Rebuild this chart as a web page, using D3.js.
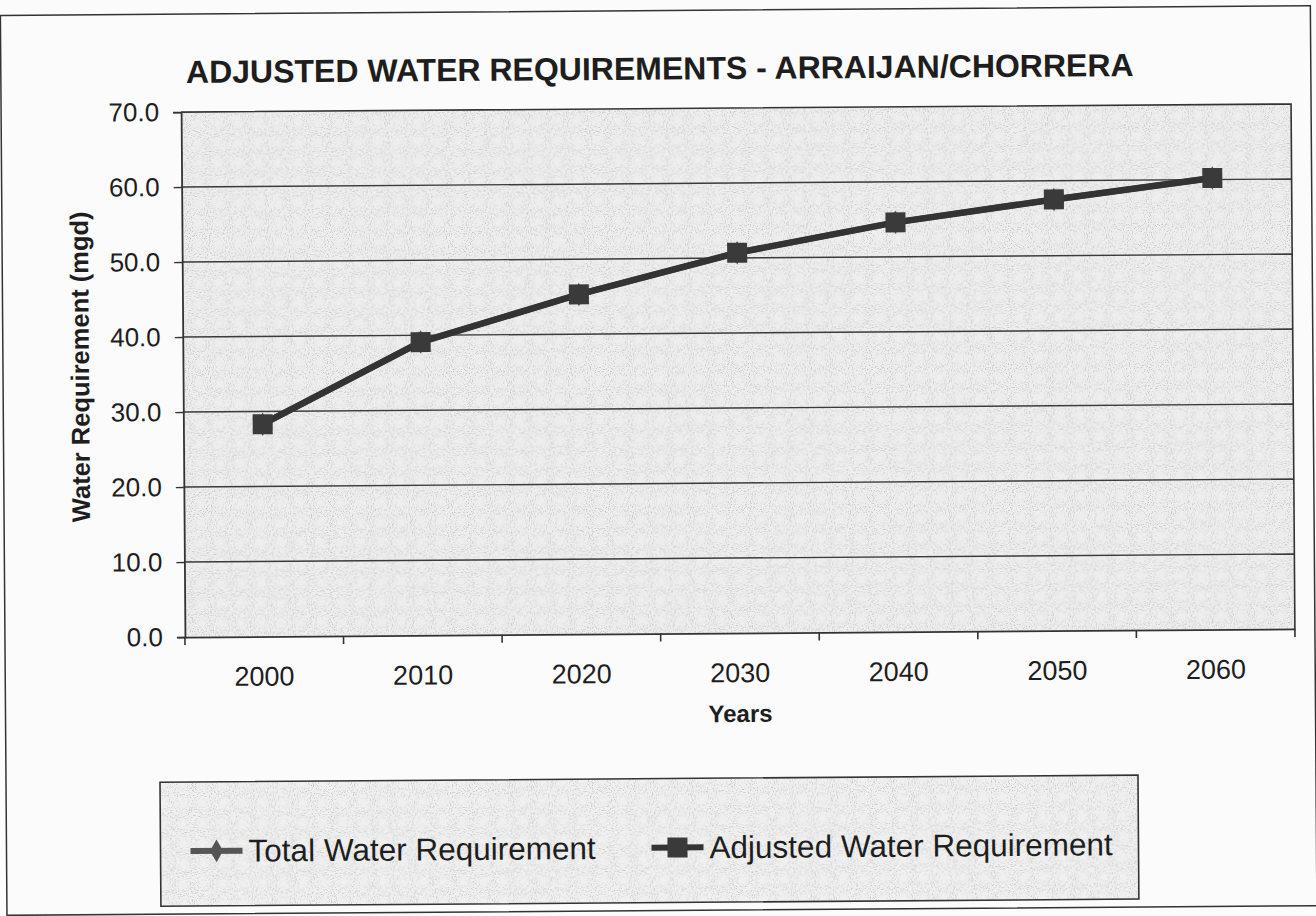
<!DOCTYPE html>
<html>
<head>
<meta charset="utf-8">
<script src="https://cdn.jsdelivr.net/npm/d3@7"></script>
<style>
  body { margin: 0; background: #fbfbfb; }
  text { font-family: "Liberation Sans", Arial, sans-serif; fill: #1e1e1e; }
</style>
</head>
<body>
<svg id="chart"></svg>
<script>
const width = 1316;
const height = 916;

// data
const years = ['2000', '2010', '2020', '2030', '2040', '2050', '2060'];
const adjustedWater = [28.3, 39.1, 45.3, 50.7, 54.6, 57.5, 60.2];
const totalWater = [28.3, 39.1, 45.3, 50.7, 54.6, 57.5, 60.2]; // hidden under the adjusted line
const yTicks = [0, 10, 20, 30, 40, 50, 60, 70];
const seriesNames = ['Total Water Requirement', 'Adjusted Water Requirement'];

const plot = {left: 183, top: 108, right: 1293, bottom: 633};

const svg = d3.select('#chart')
    .attr('width', width)
    .attr('height', height);

// speckle texture like the scan
const defs = svg.append('defs');
const speck = defs.append('filter').attr('id', 'speck')
    .attr('x', 0).attr('y', 0).attr('width', 1).attr('height', 1);
speck.append('feTurbulence').attr('type', 'fractalNoise')
    .attr('baseFrequency', 0.95).attr('numOctaves', 1).attr('seed', 4).attr('result', 'noise');
speck.append('feColorMatrix').attr('in', 'noise').attr('type', 'matrix')
    .attr('values', '0 0 0 0 0.55  0 0 0 0 0.55  0 0 0 0 0.55  0 0 0 -5 2.35')
    .attr('result', 'dots');
speck.append('feComposite').attr('in', 'dots').attr('in2', 'SourceGraphic').attr('operator', 'atop');

// the scan is slightly tilted
const page = svg.append('g').attr('transform', 'rotate(-0.42, 738, 370)');

page.append('rect')
    .attr('x', 3).attr('y', 10)
    .attr('width', 1310).attr('height', 900)
    .attr('fill', 'none').attr('stroke', '#333').attr('stroke-width', 1.5);

const x = d3.scaleBand().domain(years).range([plot.left, plot.right]);
const y = d3.scaleLinear().domain([0, 70]).range([plot.bottom, plot.top]);

page.append('rect')
    .attr('x', plot.left).attr('y', plot.top)
    .attr('width', plot.right - plot.left).attr('height', plot.bottom - plot.top)
    .attr('fill', '#eeeeee')
    .attr('filter', 'url(#speck)');

// gridlines
page.append('g').selectAll('line')
    .data(yTicks.filter(t => t > 0 && t < 70)).enter().append('line')
    .attr('x1', plot.left).attr('x2', plot.right)
    .attr('y1', d => y(d)).attr('y2', d => y(d))
    .attr('stroke', '#3a3a3a').attr('stroke-width', 1.4);

// plot border top/right
page.append('path')
    .attr('d', `M${plot.left},${plot.top}H${plot.right}V${plot.bottom}`)
    .attr('fill', 'none').attr('stroke', '#333').attr('stroke-width', 1.6);

const yAxis = page.append('g')
    .attr('transform', `translate(${plot.left},0)`)
    .call(d3.axisLeft(y).tickValues(yTicks).tickFormat(d3.format('.1f')).tickSize(8).tickPadding(14));

const xAxis = page.append('g')
    .attr('transform', `translate(0,${plot.bottom})`)
    .call(d3.axisBottom(x).tickSize(0).tickPadding(30));

// boundary ticks between categories
xAxis.selectAll('.bound')
    .data(years.map(d => x(d)).concat([plot.right])).enter().append('line')
    .attr('class', 'bound')
    .attr('x1', d => d).attr('x2', d => d)
    .attr('y1', 0).attr('y2', 8)
    .attr('stroke', '#333').attr('stroke-width', 1.6);

[yAxis, xAxis].forEach(a => {
    a.select('.domain').attr('stroke', '#333').attr('stroke-width', 1.8);
    a.selectAll('.tick line').attr('stroke', '#333').attr('stroke-width', 1.4);
    a.selectAll('.tick text').style('font-size', '26px').attr('fill', '#1e1e1e');
});
xAxis.selectAll('.tick text').style('font-size', '27px');

const line = d3.line()
    .x((d, i) => x(years[i]) + x.bandwidth() / 2)
    .y(d => y(d));

// total water requirement (drawn beneath)
page.append('path').datum(totalWater)
    .attr('d', line).attr('fill', 'none')
    .attr('stroke', '#555').attr('stroke-width', 6);
page.append('g').selectAll('path')
    .data(totalWater).enter().append('path')
    .attr('d', d3.symbol(d3.symbolDiamond, 160))
    .attr('transform', (d, i) => `translate(${x(years[i]) + x.bandwidth() / 2},${y(d)})`)
    .attr('fill', '#555');

// adjusted water requirement
page.append('path').datum(adjustedWater)
    .attr('d', line).attr('fill', 'none')
    .attr('stroke', '#333').attr('stroke-width', 6.5);
page.append('g').selectAll('rect')
    .data(adjustedWater).enter().append('rect')
    .attr('x', (d, i) => x(years[i]) + x.bandwidth() / 2 - 10)
    .attr('y', d => y(d) - 10)
    .attr('width', 20).attr('height', 20)
    .attr('fill', '#3a3a3a');

// titles
page.append('text')
    .attr('x', 662).attr('y', 79)
    .attr('text-anchor', 'middle')
    .style('font-size', '32px').style('font-weight', 'bold')
    .text('ADJUSTED WATER REQUIREMENTS - ARRAIJAN/CHORRERA');

page.append('text')
    .attr('x', 738).attr('y', 722)
    .attr('text-anchor', 'middle')
    .style('font-size', '24px').style('font-weight', 'bold')
    .text('Years');

page.append('text')
    .attr('transform', 'translate(89,362) rotate(-90)')
    .attr('text-anchor', 'middle')
    .style('font-size', '25.5px').style('font-weight', 'bold')
    .text('Water Requirement (mgd)');

// legend
const legend = page.append('g');
legend.append('rect')
    .attr('x', 157).attr('y', 778)
    .attr('width', 978).attr('height', 124)
    .attr('fill', '#f0f0f0')
    .attr('filter', 'url(#speck)');
legend.append('rect')
    .attr('x', 157).attr('y', 778)
    .attr('width', 978).attr('height', 124)
    .attr('fill', 'none').attr('stroke', '#333').attr('stroke-width', 1.6);

const legendX = [187, 648];
const item = legend.selectAll('.item')
    .data(seriesNames).enter().append('g')
    .attr('class', 'item')
    .attr('transform', (d, i) => `translate(${legendX[i]},847)`);
item.append('line')
    .attr('x1', 0).attr('x2', 52)
    .attr('stroke', (d, i) => i === 0 ? '#555' : '#333')
    .attr('stroke-width', 6);
item.filter((d, i) => i === 0).append('path')
    .attr('d', d3.symbol(d3.symbolDiamond, 150))
    .attr('transform', 'translate(26,0)')
    .attr('fill', '#555');
item.filter((d, i) => i === 1).append('rect')
    .attr('x', 16).attr('y', -10).attr('width', 20).attr('height', 20)
    .attr('fill', '#3a3a3a');
item.append('text')
    .attr('x', 58).attr('y', 11)
    .style('font-size', '31.5px')
    .text(d => d);
</script>
</body>
</html>
